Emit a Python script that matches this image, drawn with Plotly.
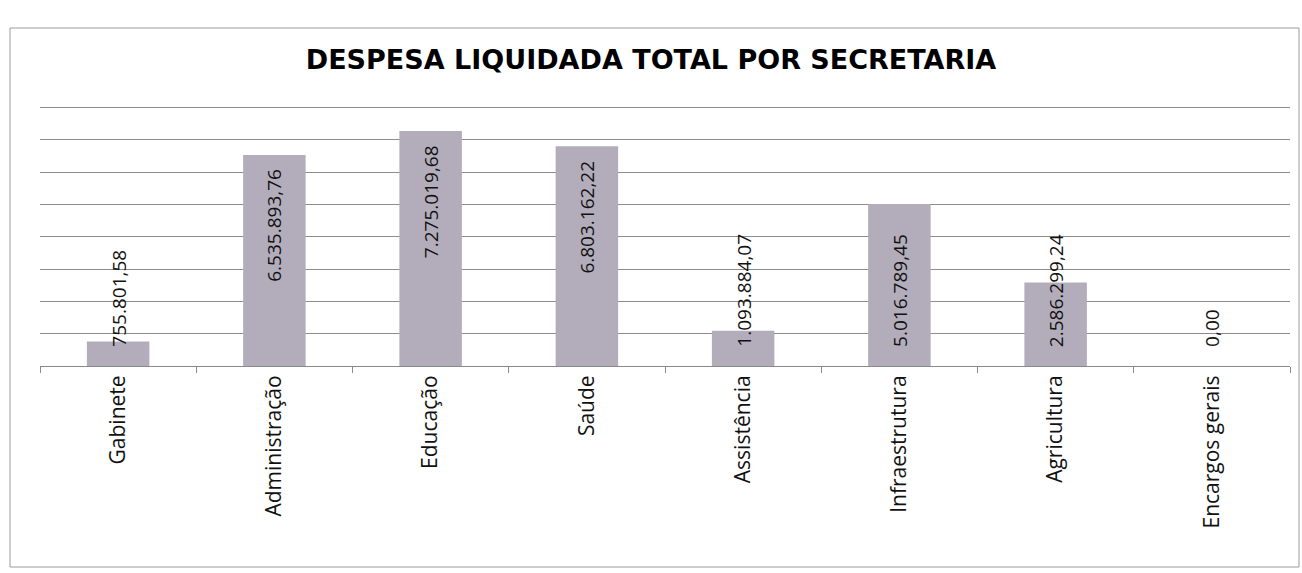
import plotly.graph_objects as go

categories = ["Gabinete", "Administração", "Educação", "Saúde", "Assistência",
              "Infraestrutura", "Agricultura", "Encargos gerais"]
values = [755801.58, 6535893.76, 7275019.68, 6803162.22, 1093884.07,
          5016789.45, 2586299.24, 0.00]
title_text = "DESPESA LIQUIDADA TOTAL POR SECRETARIA"

def br(v):
    s = f"{v:,.2f}"
    return s.replace(",", "X").replace(".", ",").replace("X", ".")

W, H = 1302, 573
ymax = 8000000
ytop = ymax * 1.01
base_px, top_grid_px = 366, 108
px_per_unit = (base_px - top_grid_px) / ymax
ml, mr = 40, 12
mb = H - base_px
mt = int(round(base_px - ytop * px_per_unit))
plot_w = W - ml - mr
plot_h = H - mt - mb
text_len_px = 140
lab_font = dict(family="Open Sans", size=19, color="#111")

fig = go.Figure()
fig.add_trace(go.Bar(
    x=categories, y=values,
    marker=dict(color="#b3adbb", line=dict(width=0)),
    width=0.4,
    hoverinfo="x+y",
))

annotations = []
for c, v in zip(categories, values):
    label = br(v)
    if v * px_per_unit - 12 - text_len_px >= 17:
        annotations.append(dict(x=c, y=v, xref="x", yref="y", text=label,
                                showarrow=False, textangle=-90, yanchor="top",
                                yshift=-12, font=lab_font))
    else:
        annotations.append(dict(x=c, y=0, xref="x", yref="y", text=label,
                                showarrow=False, textangle=-90, yanchor="bottom",
                                yshift=17, font=lab_font))

fig.update_layout(
    width=W, height=H,
    margin=dict(l=ml, r=mr, t=mt, b=mb, autoexpand=False),
    paper_bgcolor="white", plot_bgcolor="white",
    title=dict(text=f"<b>{title_text}</b>", x=0.5, xanchor="center",
               y=1 - 60 / H, yanchor="middle",
               font=dict(family="DejaVu Sans", size=27, color="#000")),
    showlegend=False,
    bargap=0.6,
    annotations=annotations,
    xaxis=dict(type="category", automargin=False, showline=True, linecolor="#8a8a8a", linewidth=1,
               ticks="outside", tickson="boundaries", ticklen=6, tickcolor="#8a8a8a",
               tickangle=-90, tickfont=dict(family="Open Sans", size=21, color="#111"),
               showgrid=False),
    yaxis=dict(range=[0, ytop], automargin=False, dtick=1000000, showgrid=True,
               gridcolor="#8c8c8c", gridwidth=1, showticklabels=False,
               zeroline=False, showline=False),
    shapes=[dict(type="rect", xref="paper", yref="paper",
                 x0=(10 - ml) / plot_w, x1=(1299 - ml) / plot_w,
                 y0=(H - mb - 567) / plot_h, y1=(H - mb - 28) / plot_h,
                 line=dict(color="#9a9a9a", width=1))],
)

fig.write_html("out.html", config={"displayModeBar": False},
               post_script="document.body.style.margin='0';")
